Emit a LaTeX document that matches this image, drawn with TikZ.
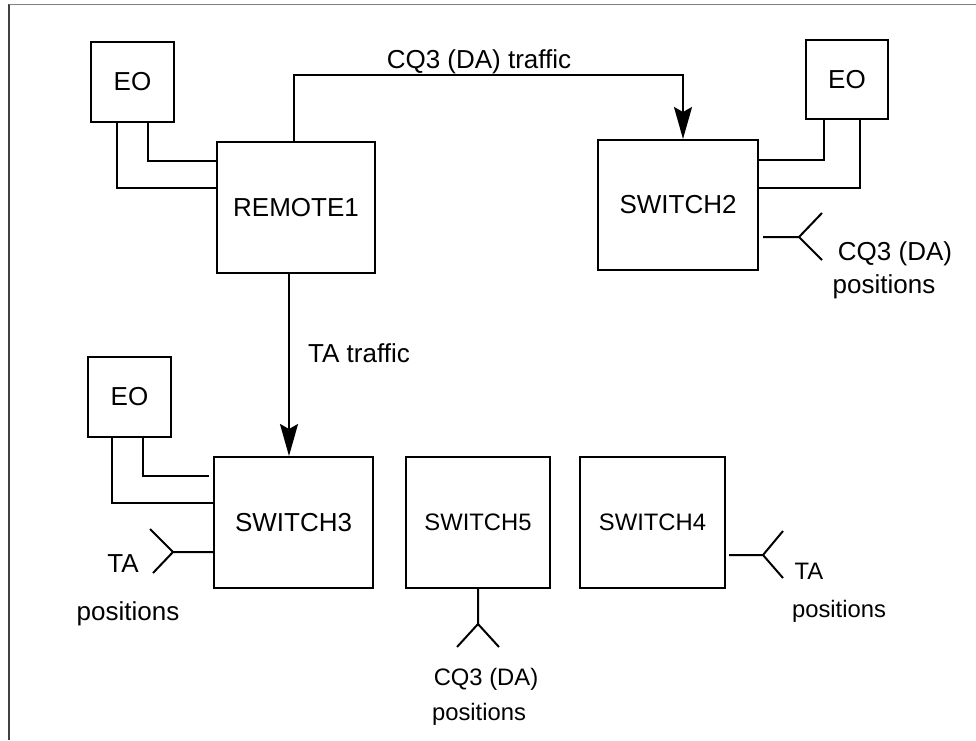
\documentclass[tikz,border=0pt]{standalone}
\usepackage{fontspec}
\setmainfont{Liberation Sans}
\usetikzlibrary{arrows.meta,positioning,calc}

\begin{document}
\begin{tikzpicture}[
    x=1pt,y=-1pt,
    box/.style={draw,line width=2pt,inner sep=0pt,align=center,font=\fontsize{26}{30}\selectfont},
    smallbox/.style={box,font=\fontsize{23.8}{28}\selectfont},
    lbl/.style={anchor=base,inner sep=0pt,font=\fontsize{26}{30}\selectfont},
    smalllbl/.style={anchor=base,inner sep=0pt,font=\fontsize{23.8}{28}\selectfont},
    wire/.style={line width=2pt},
    >={Stealth[length=32pt,width=18pt,inset=5pt]}
]
\useasboundingbox (0,0) rectangle (976,740);
% frame
\draw[black!75,line width=1.3pt] (9,740) -- (9,4);
\draw[gray,line width=1pt] (9,4) -- (976,4);

% exchanges
\node[box,minimum width=83pt,minimum height=80pt] (eoA) at (132.5,82) {EO};
\node[box,minimum width=158pt,minimum height=131pt] (remote) at (296,207.5) {REMOTE1};
\node[box,minimum width=160pt,minimum height=130pt] (sw2) at (678,205) {SWITCH2};
\node[box,minimum width=82pt,minimum height=79pt] (eoB) at (847,79.5) {EO};
\node[box,minimum width=83pt,minimum height=80pt] (eoC) at (129.5,397) {EO};
\node[box,minimum width=159pt,minimum height=131pt] (sw3) at (293.5,522.5) {SWITCH3};
\node[smallbox,minimum width=144pt,minimum height=131pt] (sw5) at (478,522.5) {SWITCH5};
\node[smallbox,minimum width=145pt,minimum height=131pt] (sw4) at (652.5,522.5) {SWITCH4};

% traffic
\draw[wire,->] ([xshift=-2pt]remote.north) -- ++(0,-66) -| ([xshift=5pt]sw2.north);
\coordinate (rdn) at ([xshift=-7pt]remote.south);
\draw[wire,->] (rdn) -- (rdn |- sw3.north);
\node[lbl] (cqtraf) at (479,68) {CQ3 (DA) traffic};
\node[lbl] (tatraf) at (359,362) {TA traffic};

% EO trunks
\draw[wire] ([xshift=-15.5pt]eoA.south) |- ([yshift=19.5pt]remote.west);
\draw[wire] ([xshift=15.5pt]eoA.south) |- ([yshift=46.5pt]remote.west);
\draw[wire] ([xshift=-23pt]eoB.south) |- ([yshift=45pt]sw2.east);
\draw[wire] ([xshift=13pt]eoB.south) |- ([yshift=17pt]sw2.east);
\draw[wire] ([xshift=13.5pt]eoC.south) |- ([xshift=-4pt,yshift=46.5pt]sw3.west);
\draw[wire] ([xshift=-17.5pt]eoC.south) |- ([yshift=19.5pt]sw3.west);

% positions
\coordinate (fk2) at (799,237);
\draw[wire] ($(sw2.east |- fk2)+(4,0)$) -- (fk2) -- ++(23,-24) (fk2) -- ++(23,23);
\node[lbl] (cq2) at (895,260) {CQ3 (DA)};
\node[lbl] (pos2) at (884,293) {positions};

\coordinate (fk3) at (173,552);
\draw[wire] (sw3.west |- fk3) -- (fk3) -- ++(-23,-23) (fk3) -- ++(-20,21);
\node[lbl] (ta3) at (123,572) {TA};
\node[lbl] (pos3) at (128,620) {positions};

\coordinate (fk5) at (478,624);
\draw[wire] (sw5.south -| fk5) -- (fk5) -- ++(-21,23) (fk5) -- ++(21,23);
\node[smalllbl] (cq5) at (486,685) {CQ3 (DA)};
\node[smalllbl] (pos5) at (479,720) {positions};

\coordinate (fk4) at (763,555);
\draw[wire] ($(sw4.east |- fk4)+(3,0)$) -- (fk4) -- ++(20,-24) (fk4) -- ++(20,23);
\node[smalllbl] (ta4) at (809,579) {TA};
\node[smalllbl] (pos4) at (839,617) {positions};
\end{tikzpicture}
\end{document}
